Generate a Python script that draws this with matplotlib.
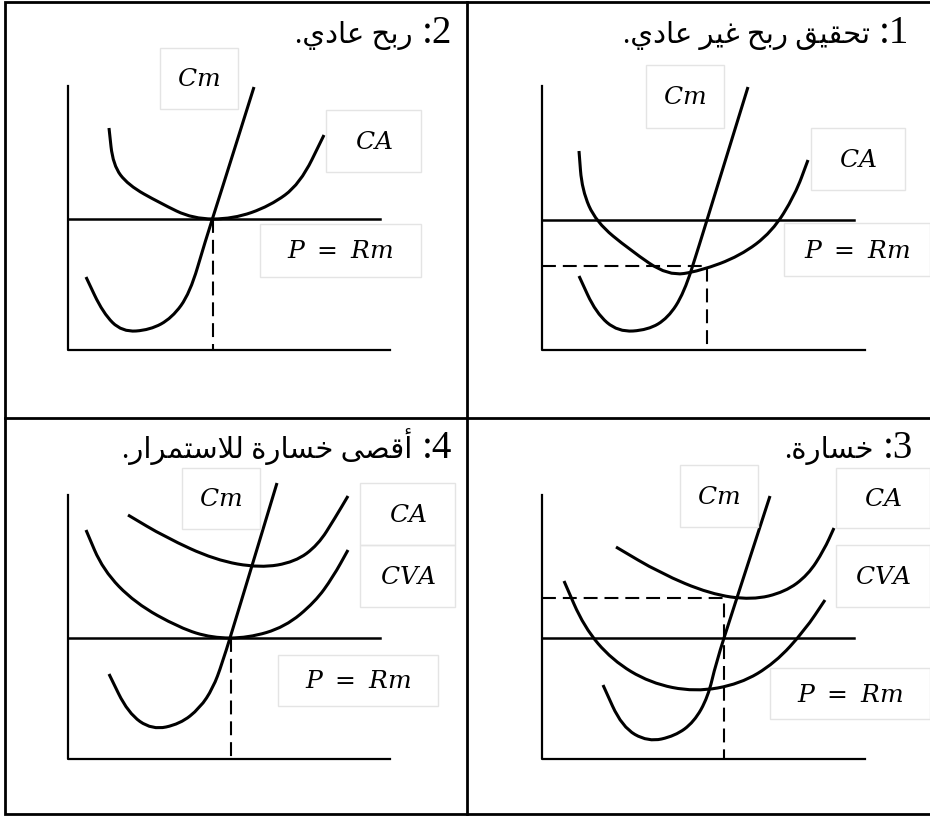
import matplotlib
matplotlib.use("Agg")
import matplotlib.pyplot as plt
from matplotlib.path import Path
from matplotlib.patches import PathPatch, Rectangle

plt.rcParams['mathtext.fontset'] = 'dejavuserif'
plt.rcParams['lines.scale_dashes'] = False

# ---- data (picture coordinates, y grows downward) ----
frame_left = 5
frame_top = 1.5
frame_bottom = 814
frame_right = 930
divider_x = 467
divider_y = 418

# panel 1 : top right
p1_title = "1: تحقيق ربح غير عادي."
p1_axis = [(542, 86), (542, 350), (865, 350)]
p1_price = [(542, 220), (854, 220)]
p1_dash = [(542, 266), (707, 266), (707, 350)]
p1_ca = [(579, 151), (582, 190), (596, 222), (630, 250), (668, 276), (700, 271),
         (740, 256), (772, 232), (795, 195), (808, 160)]
p1_cm = [(579, 276), (596, 313), (618, 332), (648, 330), (668, 318), (684, 293),
         (699, 246), (715, 194), (748, 87)]
p1_labels = [("$Cm$", (646, 65, 724, 128)), ("$CA$", (811, 128, 905, 190)),
             ("$P\\ =\\ Rm$", (784, 223, 930, 276))]

# panel 2 : top left
p2_title = "2: ربح عادي."
p2_axis = [(68, 86), (68, 350), (390, 350)]
p2_price = [(68, 219), (380, 219)]
p2_dash = [(213, 219), (213, 350)]
p2_ca = [(109, 128), (113, 165), (128, 185), (160, 203), (193, 219), (233, 219),
         (270, 206), (300, 184), (324, 135)]
p2_cm = [(86, 277), (103, 313), (122, 332), (150, 330), (172, 318), (190, 293),
         (205, 242), (221, 192), (254, 87)]
p2_labels = [("$Cm$", (160, 48, 238, 109)), ("$CA$", (326, 110, 421, 172)),
             ("$P\\ =\\ Rm$", (260, 224, 421, 277))]

# panel 3 : bottom right
p3_title = "3: خسارة."
p3_axis = [(542, 495), (542, 759), (865, 759)]
p3_price = [(542, 638), (854, 638)]
p3_dash = [(542, 598), (724, 598), (724, 759)]
p3_ca = [(616, 547), (660, 573), (710, 594), (752, 600), (785, 592), (808, 575),
         (824, 550), (834, 528)]
p3_cva = [(564, 581), (584, 627), (612, 660), (650, 683), (695, 692), (740, 684),
          (775, 663), (805, 630), (825, 600)]
p3_cm = [(603, 685), (622, 727), (648, 742), (675, 736), (694, 722), (708, 697),
         (716, 663), (732, 613), (770, 496)]
p3_labels = [("$Cm$", (680, 465, 758, 527)), ("$CA$", (836, 468, 930, 528)),
             ("$CVA$", (836, 545, 930, 607)), ("$P\\ =\\ Rm$", (770, 668, 930, 719))]

# panel 4 : bottom left
p4_title = "4: أقصى خسارة للاستمرار."
p4_axis = [(68, 495), (68, 759), (390, 759)]
p4_price = [(68, 638), (380, 638)]
p4_dash = [(231, 638), (231, 759)]
p4_ca = [(128, 515), (165, 537), (215, 560), (260, 568), (295, 562), (318, 545),
         (335, 518), (348, 496)]
p4_cva = [(86, 530), (103, 570), (135, 603), (180, 628), (212, 638), (248, 638),
          (285, 627), (315, 602), (333, 577), (348, 550)]
p4_cm = [(109, 674), (128, 713), (152, 730), (180, 724), (200, 708), (213, 688),
         (222, 664), (238, 612), (277, 483)]
p4_labels = [("$Cm$", (182, 468, 260, 529)), ("$CA$", (360, 483, 455, 545)),
             ("$CVA$", (360, 545, 455, 607)), ("$P\\ =\\ Rm$", (278, 655, 438, 706))]

titles = [(p1_title, 909, 43), (p2_title, 452, 43), (p3_title, 913, 458), (p4_title, 452, 458)]

# ---- arabic shaping (matplotlib does no contextual shaping) ----
FORMS = {
    'ا': ('\uFE8D', '\uFE8E'), 'أ': ('\uFE83', '\uFE84'),
    'ب': ('\uFE8F', '\uFE90', '\uFE91', '\uFE92'), 'ة': ('\uFE93', '\uFE94'),
    'ت': ('\uFE95', '\uFE96', '\uFE97', '\uFE98'), 'ح': ('\uFEA1', '\uFEA2', '\uFEA3', '\uFEA4'),
    'خ': ('\uFEA5', '\uFEA6', '\uFEA7', '\uFEA8'), 'د': ('\uFEA9', '\uFEAA'),
    'ر': ('\uFEAD', '\uFEAE'), 'س': ('\uFEB1', '\uFEB2', '\uFEB3', '\uFEB4'),
    'ص': ('\uFEB9', '\uFEBA', '\uFEBB', '\uFEBC'), 'ع': ('\uFEC9', '\uFECA', '\uFECB', '\uFECC'),
    'غ': ('\uFECD', '\uFECE', '\uFECF', '\uFED0'), 'ق': ('\uFED5', '\uFED6', '\uFED7', '\uFED8'),
    'ل': ('\uFEDD', '\uFEDE', '\uFEDF', '\uFEE0'), 'م': ('\uFEE1', '\uFEE2', '\uFEE3', '\uFEE4'),
    'ى': ('\uFEEF', '\uFEF0'), 'ي': ('\uFEF1', '\uFEF2', '\uFEF3', '\uFEF4'),
}
LAM_ALEF = {'ا': ('\uFEFB', '\uFEFC'), 'أ': ('\uFEF7', '\uFEF8')}


def shape_rtl(text):
    units = []
    i = 0
    while i < len(text):
        c = text[i]
        if c == 'ل' and i + 1 < len(text) and text[i + 1] in LAM_ALEF:
            units.append(('LA', text[i + 1]))
            i += 2
        else:
            units.append(('CH', c))
            i += 1

    def arabic(u):
        return u[0] == 'LA' or u[1] in FORMS

    def dual(u):
        return u[0] == 'CH' and u[1] in FORMS and len(FORMS[u[1]]) == 4

    out = []
    for k, u in enumerate(units):
        prev = k > 0 and dual(units[k - 1])
        if u[0] == 'LA':
            out.append(LAM_ALEF[u[1]][1 if prev else 0])
            continue
        if u[1] not in FORMS:
            out.append(u[1])
            continue
        nxt = dual(u) and k + 1 < len(units) and arabic(units[k + 1])
        f = FORMS[u[1]]
        if prev and nxt:
            out.append(f[3])
        elif prev:
            out.append(f[1])
        elif nxt:
            out.append(f[2])
        else:
            out.append(f[0])
    return ''.join(out)[::-1]


def smooth(ax, pts, lw=2.2):
    # quadratic b-spline through the control polygon
    verts = [pts[0], ((pts[0][0] + pts[1][0]) / 2, (pts[0][1] + pts[1][1]) / 2)]
    codes = [Path.MOVETO, Path.LINETO]
    for a, b in zip(pts[1:-1], pts[2:]):
        verts += [a, ((a[0] + b[0]) / 2, (a[1] + b[1]) / 2)]
        codes += [Path.CURVE3, Path.CURVE3]
    verts.append(pts[-1])
    codes.append(Path.LINETO)
    ax.add_patch(PathPatch(Path(verts, codes), fill=False, lw=lw, ec='black',
                           capstyle='butt', joinstyle='round'))


fig = plt.figure(figsize=(9.3, 8.16), dpi=100)
ax = fig.add_axes([0, 0, 1, 1])
ax.set_xlim(0, 930)
ax.set_ylim(816, 0)
ax.axis('off')

# frame and dividers
ax.plot([frame_right, frame_left, frame_left, frame_right],
        [frame_top, frame_top, frame_bottom, frame_bottom],
        color='black', lw=2, solid_joinstyle='miter')
ax.plot([divider_x, divider_x], [frame_top, frame_bottom], color='black', lw=2)
ax.plot([frame_left, frame_right], [divider_y, divider_y], color='black', lw=2)

panels = [
    (p1_axis, p1_price, p1_dash, [p1_ca, p1_cm], p1_labels),
    (p2_axis, p2_price, p2_dash, [p2_ca, p2_cm], p2_labels),
    (p3_axis, p3_price, p3_dash, [p3_ca, p3_cva, p3_cm], p3_labels),
    (p4_axis, p4_price, p4_dash, [p4_ca, p4_cva, p4_cm], p4_labels),
]

for axis, price, dash, curves, labels in panels:
    ax.plot(*zip(*axis), color='black', lw=1.6)
    ax.plot(*zip(*price), color='black', lw=1.8)
    ax.plot(*zip(*dash), color='black', lw=1.5, linestyle=(0, (10, 5)))
    for c in curves:
        smooth(ax, c)
    for txt, (x0, y0, x1, y1) in labels:
        ax.add_patch(Rectangle((x0, y0), x1 - x0, y1 - y0, fill=False,
                               ec='#e4e4e4', lw=1))
        ax.text((x0 + x1) / 2, (y0 + y1) / 2 + 1, txt, fontsize=18,
                ha='center', va='center')

# titles: number in a serif face, arabic words placed to its left
renderer = fig.canvas.get_renderer()
for txt, x, y in titles:
    num, words = txt.split(' ', 1)
    t = ax.text(x, y, num[::-1], fontsize=28, ha='right', va='baseline',
                family='Liberation Serif')
    bb = t.get_window_extent(renderer)
    left = ax.transData.inverted().transform((bb.x0, bb.y0))[0]
    ax.text(left - 9, y, shape_rtl(words), fontsize=21, ha='right', va='baseline',
            family=['Liberation Serif', 'DejaVu Sans'])

fig.savefig('out.png', dpi=100)
